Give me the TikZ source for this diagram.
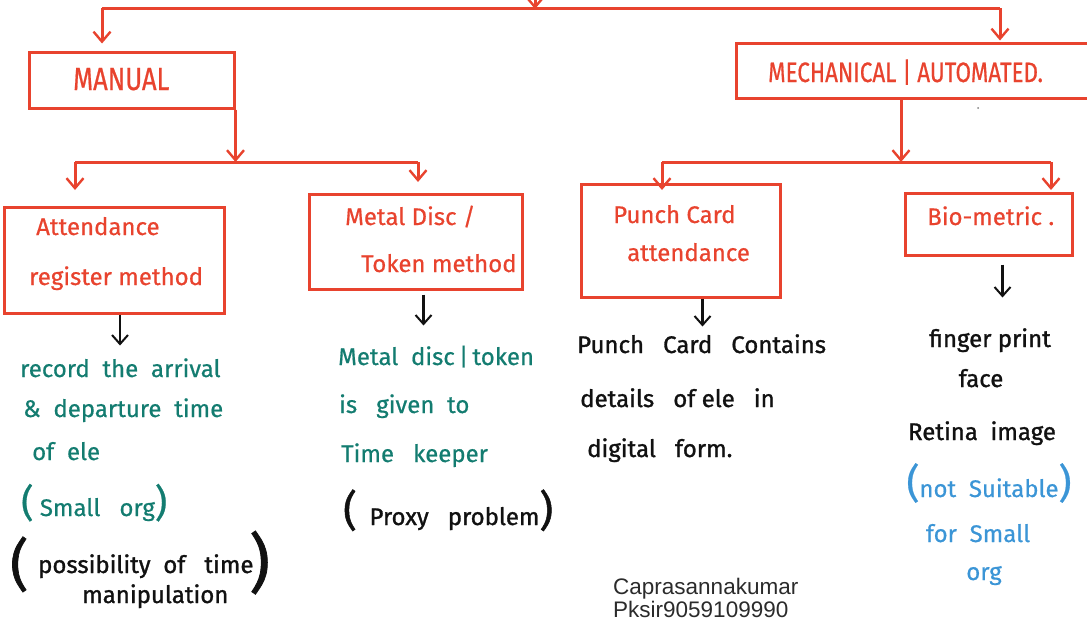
\documentclass[tikz,border=0pt]{standalone}
\usepackage{fontspec}
\setmainfont{Fira Sans}
\newfontfamily\capsfont[FakeStretch=0.8,FakeBold=0.6]{Fira Sans}
\newfontfamily\handfont[FakeBold=0.6]{Fira Sans}
\newfontfamily\penfont[FakeBold=1.2]{Fira Sans}
\newfontfamily\printfont{Liberation Sans}
\usetikzlibrary{arrows.meta}
\definecolor{inkred}{HTML}{E8432E}
\definecolor{inkteal}{HTML}{137C70}
\definecolor{inkblue}{HTML}{3B95D6}
\definecolor{inkblack}{HTML}{111111}
\definecolor{printgray}{HTML}{2B2B2B}
\newcommand{\bigparen}[2]{{\fontsize{#1}{#1}\selectfont #2}}
\tikzset{
  redbox/.style={draw=inkred, line width=3pt, rectangle, inner sep=0pt},
  redline/.style={draw=inkred, line width=3pt},
  redtip/.style={-{Straight Barb[length=10pt,width=17pt,line width=2.4pt]}},
  blackline/.style={draw=inkblack, line width=2.2pt},
  blacktip/.style={-{Straight Barb[length=9pt,width=16pt,line width=2pt]}},
  capslabel/.style={anchor=base west, inner sep=0pt, text=inkred, font=\capsfont\fontsize{32}{32}\selectfont},
  redlabel/.style={anchor=base west, inner sep=0pt, text=inkred, font=\handfont\fontsize{24}{24}\selectfont},
  tealnote/.style={anchor=base west, inner sep=0pt, text=inkteal, font=\handfont\fontsize{24}{24}\selectfont},
  blacknote/.style={anchor=base west, inner sep=0pt, text=inkblack, font=\penfont\fontsize{24}{24}\selectfont},
  bluenote/.style={anchor=base, inner sep=0pt, text=inkblue, font=\handfont\fontsize{24}{24}\selectfont},
  printnote/.style={anchor=base west, inner sep=0pt, text=printgray, font=\printfont\fontsize{22.5}{22.5}\selectfont},
}
\begin{document}
\begin{tikzpicture}[x=1pt,y=-1pt]
\useasboundingbox (0,0) rectangle (1087,621);

% --- boxes ---
\node[redbox, minimum width=205pt, minimum height=56pt] (manual) at (131.5,80) {};
\node[redbox, minimum width=359pt, minimum height=55pt] (mech) at (915.5,70.5) {};
\node[redbox, minimum width=220pt, minimum height=106pt] (att) at (114,260) {};
\node[redbox, minimum width=213pt, minimum height=95pt] (metal) at (415.5,241.5) {};
\node[redbox, minimum width=199pt, minimum height=113pt] (punch) at (680.5,240.5) {};
\node[redbox, minimum width=167pt, minimum height=62pt] (bio) at (988.5,224) {};

% --- box labels ---
\node[capslabel] (manualtxt) at (73,90) {MANUAL};
\node[capslabel, font=\capsfont\fontsize{28}{28}\selectfont] (mechtxt) at (768,82) {MECHANICAL | AUTOMATED.};
\node[redlabel] (att1) at (36,235) {Attendance};
\node[redlabel] (att2) at (29,285) {register method};
\node[redlabel] (metal1) at (345,225) {Metal Disc /};
\node[redlabel] (metal2) at (361,272) {Token method};
\node[redlabel] (punch1) at (613,223) {Punch Card};
\node[redlabel] (punch2) at (627,261) {attendance};
\node[redlabel] (bio1) at (927,225) {Bio-metric .};
\fill[gray] (978,108) circle (1pt);

% --- top level ---
\coordinate (root) at (535,-30);
\coordinate (rootbar) at (535,9);
\coordinate (barL) at (102,8);
\coordinate (barR) at (1000,8);
\draw[redline, redtip] (root) -- (rootbar);
\draw[redline] (barL) -- (barR);
\draw[redline, redtip, shorten >=7pt] (barL) -- (manual.north -| barL);
\draw[redline, redtip, shorten >=1pt] (barR) -- (mech.north -| barR);

% --- manual branch ---
\coordinate (mbarL) at (75,162);
\coordinate (mbarR) at (418,162);
\draw[redline, redtip] (manual.south east) -- (manual.south east |- mbarL);
\draw[redline] (mbarL) -- (mbarR);
\draw[redline, redtip] (mbarL) -- ++(0,28);
\draw[redline, redtip] (mbarR) -- ++(0,20);

% --- mechanical branch ---
\coordinate (pbarL) at (662,162);
\coordinate (pbarM) at (901,162);
\coordinate (pbarR) at (1051,162);
\draw[redline, redtip] (mech.south -| pbarM) -- (pbarM);
\draw[redline] (pbarL) -- (pbarR);
\draw[redline, redtip] (pbarL) -- ++(0,28);
\draw[redline, redtip] (pbarR) -- ++(0,28);

% --- arrows to notes ---
\draw[blackline, blacktip] ([xshift=6pt]att.south) -- ++(0,31);
\draw[blackline, blacktip] ([xshift=8pt,yshift=-4pt]metal.south) -- ++(0,31);
\draw[blackline, blacktip] ([xshift=22pt]punch.south) -- ++(0,28);
\draw[blackline, blacktip] ([xshift=14pt,yshift=-8pt]bio.south) -- ++(0,33);

% --- register notes ---
\node[tealnote] (n1) at (20,377) {record\ \ the\ \ arrival};
\node[tealnote] (n2) at (23,417) {\&\ \ departure\ \ time};
\node[tealnote] (n3) at (32,460) {of\ \ ele};
\node[tealnote] (n4) at (21,516) {\bigparen{38}{(}\ Small\ \ \ org\bigparen{38}{)}};
\node[blacknote] (n5open) at (10,584) {\bigparen{56}{(}};
\node[blacknote] (n5) at (38,573) {possibility\ \ of\ \ \ time};
\node[blacknote] (n5close) at (249,585) {\bigparen{64}{)}};
\node[blacknote] (n6) at (82,603) {manipulation};

% --- token notes ---
\node[tealnote] (m1) at (338,365) {Metal\ \ disc\,|\,token};
\node[tealnote] (m2) at (339,413) {is\ \ \ given\ \ to};
\node[tealnote] (m3) at (341,462) {Time\ \ \ keeper};
\node[blacknote] (m4) at (343,525) {\bigparen{42}{(}\ \ Proxy\ \ \ problem\bigparen{42}{)}};

% --- punch card notes ---
\node[blacknote] (p1) at (577,353) {Punch\ \ \ Card\ \ \ Contains};
\node[blacknote] (p2) at (580,407) {details\ \ \ of ele\ \ \ in};
\node[blacknote] (p3) at (587,457) {digital\ \ \ form.};

% --- biometric notes ---
\node[blacknote, anchor=base] (b1) at (990,347) {finger print};
\node[blacknote, anchor=base] (b2) at (981,387) {face};
\node[blacknote, anchor=base] (b3) at (982,440) {Retina\ \ image};
\node[bluenote] (b4) at (989,497) {\bigparen{40}{(}not\ \ Suitable\bigparen{40}{)}};
\node[bluenote] (b5) at (978,542) {for\ \ Small};
\node[bluenote] (b6) at (984,580) {org};

% --- author line ---
\node[printnote] (author) at (613,594) {Caprasannakumar};
\node[printnote] (phone) at (613,617) {Pksir9059109990};
\end{tikzpicture}
\end{document}
